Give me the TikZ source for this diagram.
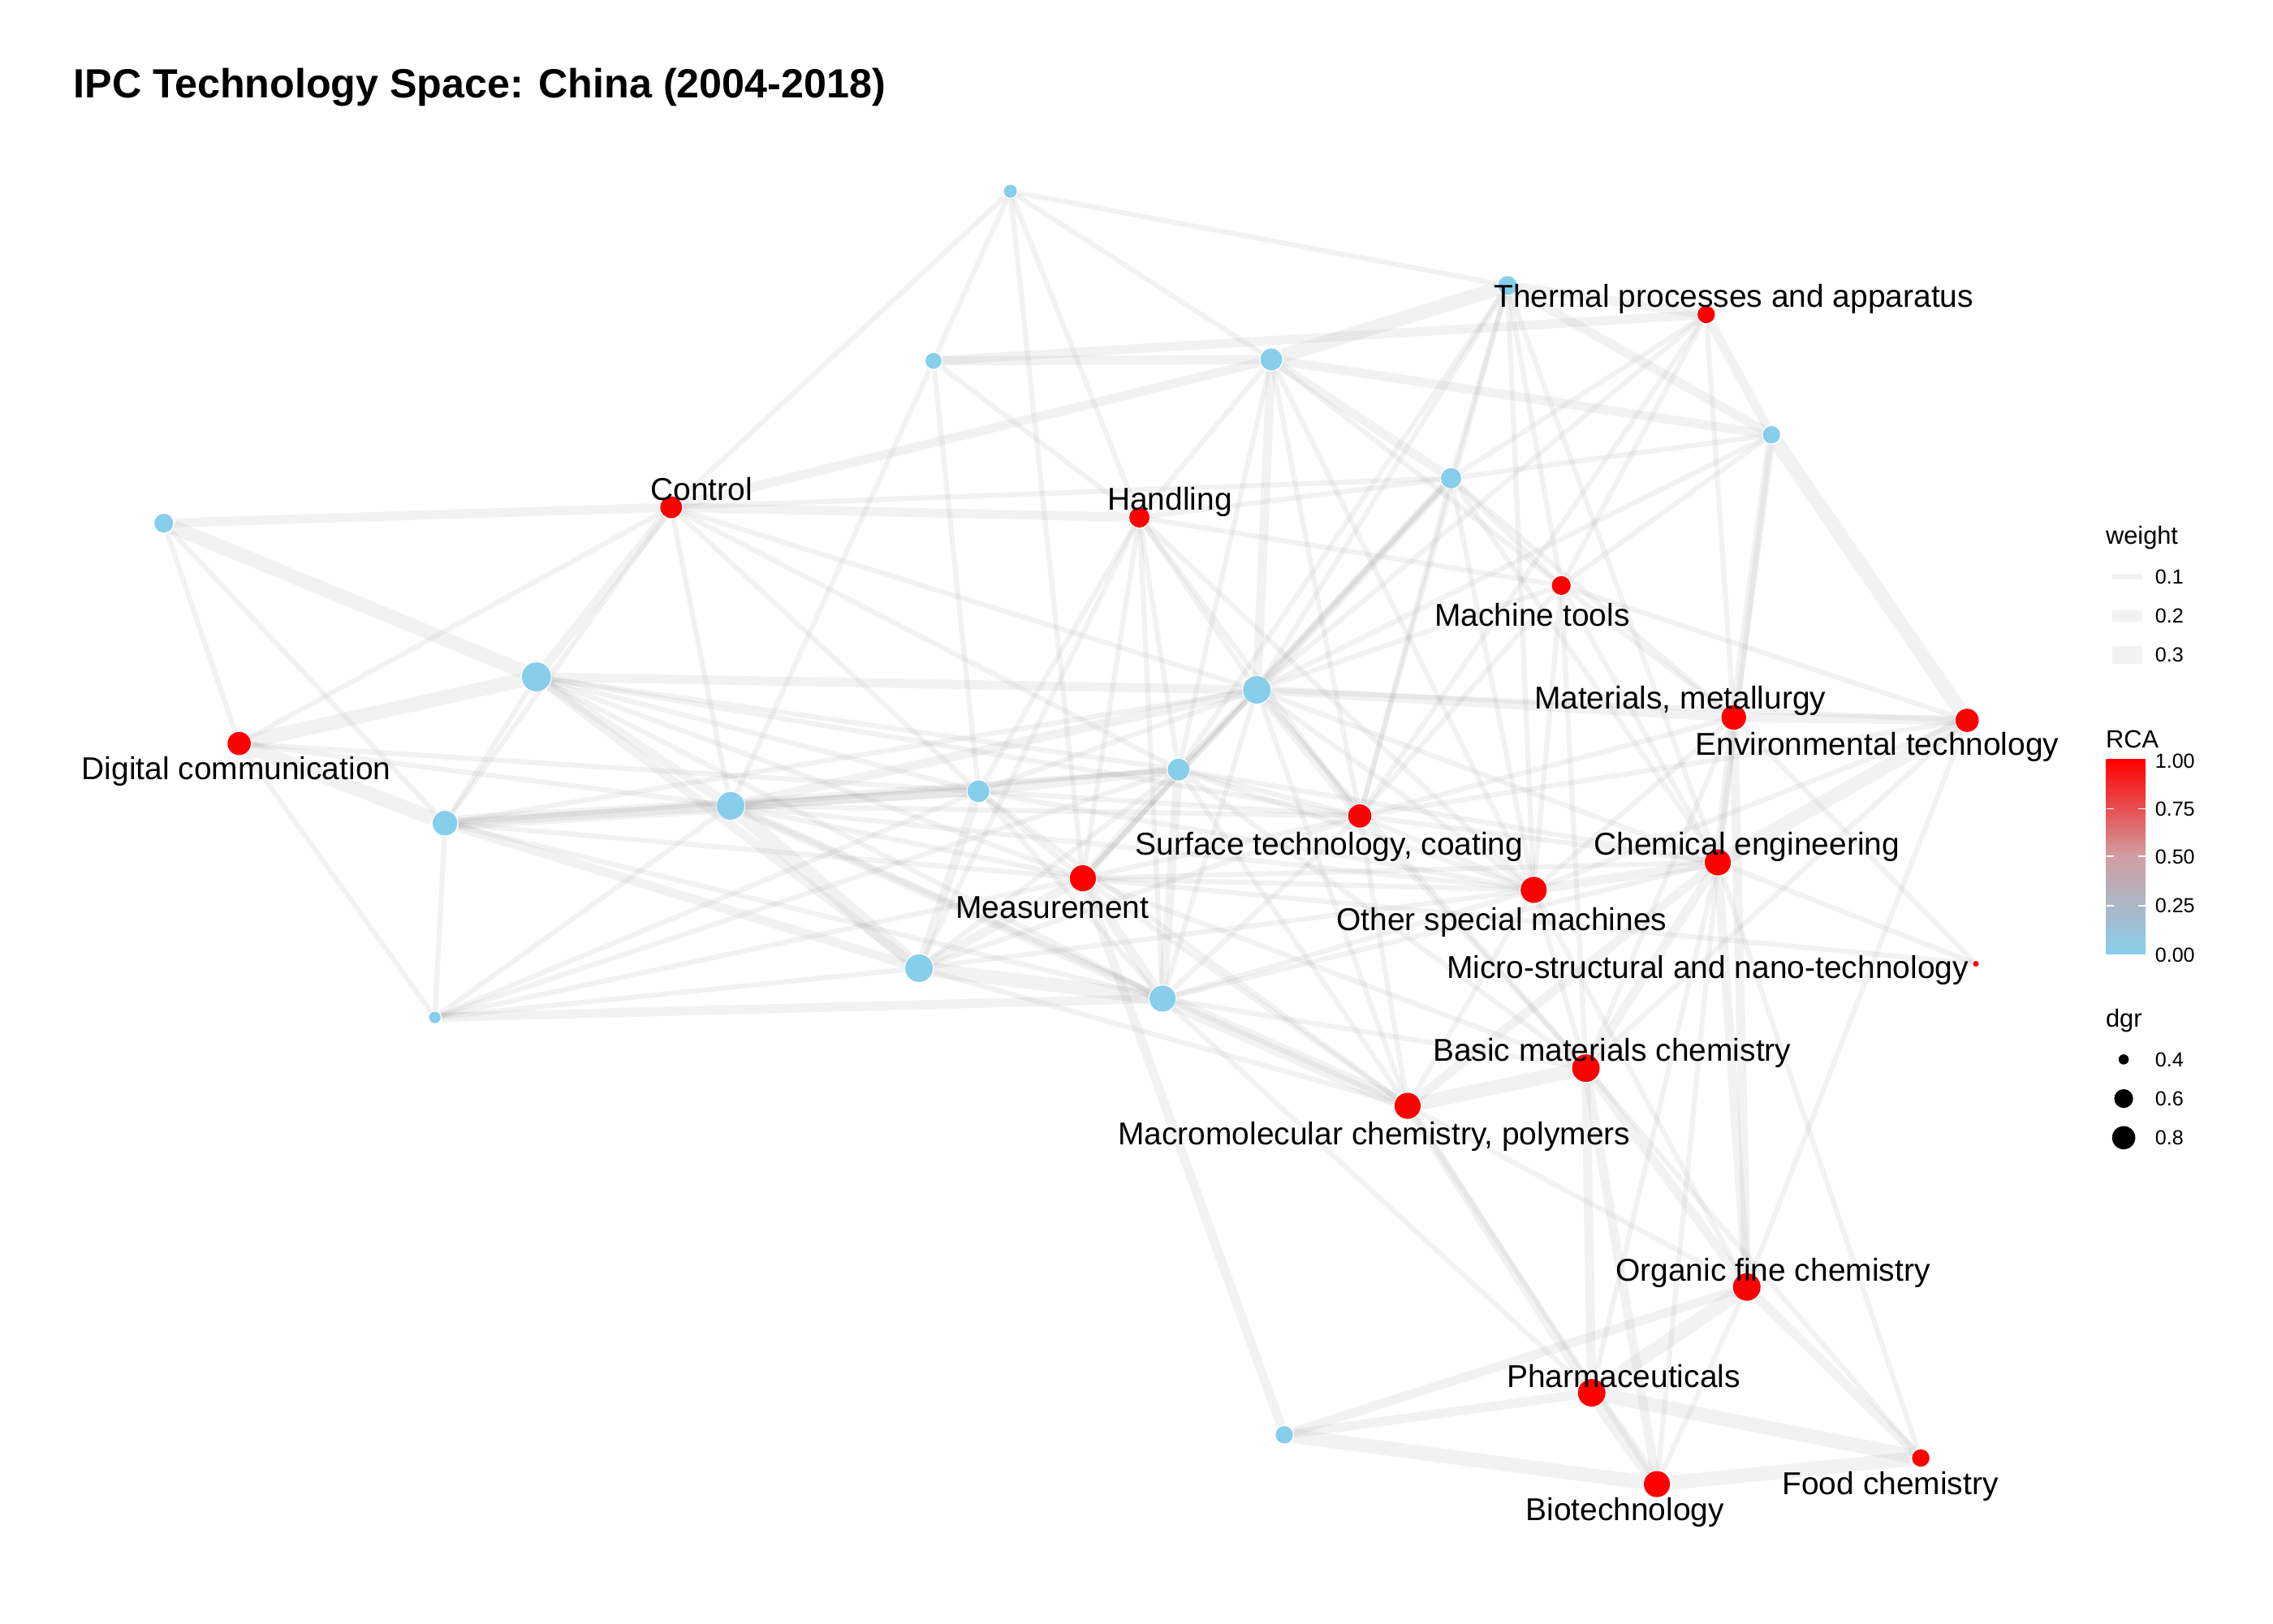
\documentclass[tikz,border=0pt]{standalone}
\usepackage{fontspec}
\setmainfont{Liberation Sans}
\pgfdeclarelayer{back}
\pgfsetlayers{back,main}
\definecolor{skyblue}{RGB}{135,206,235}
\definecolor{rcamid}{RGB}{208,158,162}
\tikzset{
  tie/.style={draw=black!50, draw opacity=0.10, line width=1pt},
  tieb/.style={tie, line width=1.8pt},
  tiec/.style={tie, line width=2.8pt},
  hot/.style={circle, fill=red, inner sep=0pt, minimum size=#1*0.02cm},
  cold/.style={circle, fill=skyblue, inner sep=0pt, minimum size=#1*0.02cm},
  lbl/.style={inner sep=0pt, yshift=-0.025cm, font=\fontsize{6.2}{7}\selectfont},
  keytxt/.style={inner sep=0pt, anchor=west, font=\fontsize{4}{5}\selectfont},
  keyhead/.style={inner sep=0pt, anchor=west, yshift=-0.02cm, font=\fontsize{4.9}{6}\selectfont}
}
\begin{document}
\begin{tikzpicture}[x=0.01cm, y=-0.01cm]
\useasboundingbox (0,0) rectangle (1568,1120);
\node[anchor=west, inner sep=0pt, font=\bfseries\fontsize{8}{9}\selectfont] (title) at (50,60) {IPC Technology Space: China (2004-2018)};
% technologies without advantage
\node[cold=4.5] (b1) at (697,132) {};
\node[cold=5.5] (b2) at (644,249) {};
\node[cold=7.5] (b3) at (877,248) {};
\node[cold=6.5] (b4) at (1040,197) {};
\node[cold=6] (b5) at (1222,300) {};
\node[cold=7] (b6) at (1001,330) {};
\node[cold=6.5] (b7) at (113,361) {};
\node[cold=10] (b8) at (370,467) {};
\node[cold=9.5] (b9) at (867,476) {};
\node[cold=8.5] (b10) at (307,568) {};
\node[cold=9.5] (b11) at (504,556) {};
\node[cold=7.5] (b12) at (675,546) {};
\node[cold=7.5] (b13) at (813,531) {};
\node[cold=9.5] (b14) at (634,668) {};
\node[cold=9] (b15) at (802,689) {};
\node[cold=4] (b16) at (300,702) {};
\node[cold=6] (b17) at (886,990) {};
% technologies with advantage
\node[hot=7.5] (ctrl) at (463,350) {};
\node[hot=7] (hand) at (786,357) {};
\node[hot=6] (therm) at (1177,217) {};
\node[hot=6.5] (mtool) at (1077,404) {};
\node[hot=8] (digi) at (165,513) {};
\node[hot=8.5] (matl) at (1196,495) {};
\node[hot=8] (env) at (1357,497) {};
\node[hot=8] (surf) at (938,563) {};
\node[hot=9] (meas) at (747,606) {};
\node[hot=9] (chem) at (1185,595) {};
\node[hot=9] (oth) at (1058,614) {};
\node[hot=2] (micro) at (1363,665) {};
\node[hot=9.5] (basic) at (1094,737) {};
\node[hot=9] (macro) at (971,763) {};
\node[hot=9.5] (org) at (1205,888) {};
\node[hot=9.5] (pharm) at (1098,961) {};
\node[hot=9] (biot) at (1143,1024) {};
\node[hot=6] (food) at (1325,1006) {};
% labels
\node[lbl] (therm-l) at (1196,204) {Thermal processes and apparatus};
\node[lbl] (ctrl-l) at (484,335) {Control};
\node[lbl] (hand-l) at (807,344) {Handling};
\node[lbl] (mtool-l) at (1057,422) {Machine tools};
\node[lbl] (matl-l) at (1159,481) {Materials, metallurgy};
\node[lbl] (env-l) at (1295,513) {Environmental technology};
\node[lbl] (digi-l) at (163,530) {Digital communication};
\node[lbl] (surf-l) at (917,582) {Surface technology, coating};
\node[lbl] (chem-l) at (1205,582) {Chemical engineering};
\node[lbl] (meas-l) at (726,624) {Measurement};
\node[lbl] (oth-l) at (1036,634) {Other special machines};
\node[lbl] (micro-l) at (1178,667) {Micro-structural and nano-technology};
\node[lbl] (basic-l) at (1112,724) {Basic materials chemistry};
\node[lbl] (macro-l) at (948,782) {Macromolecular chemistry, polymers};
\node[lbl] (org-l) at (1223,876) {Organic fine chemistry};
\node[lbl] (pharm-l) at (1120,947) {Pharmaceuticals};
\node[lbl] (biot-l) at (1121,1041) {Biotechnology};
\node[lbl] (food-l) at (1304,1023) {Food chemistry};
% edges
\begin{pgfonlayer}{back}
\foreach \a/\b in {b7/b8, digi/b8, digi/b10, b10/b11, b11/b14, b14/b15, b15/macro, macro/basic, org/pharm, pharm/biot, biot/b17, biot/food, pharm/food, env/chem, b5/env, b3/b4}
  \draw[tiec] (\a) -- (\b);
\foreach \a/\b in {b7/ctrl, ctrl/b8, ctrl/b3, b8/b11, b8/b14, b8/b9, b11/b12, b11/b9, b12/b13, b9/matl, b4/therm, b4/b5, therm/b5, b3/b5, b3/b6, b9/b3, b17/pharm, b17/org, basic/org, basic/pharm, chem/org, matl/org, matl/env, matl/chem, chem/oth, chem/basic, meas/b15, b14/meas, b12/b14, b11/b15, b10/b14, b16/b15, b10/b12, macro/pharm, org/food, basic/biot, ctrl/hand, b2/b3, b2/therm, b9/surf, b13/b15, b13/meas, b9/b6, chem/macro, b5/matl, b17/meas}
  \draw[tieb] (\a) -- (\b);
\foreach \a/\b in {b1/b4, b1/b2, b1/ctrl, b1/b3, b1/hand, b1/meas, b2/b11, b2/hand, b2/b12, b7/digi, b7/b10, ctrl/digi, ctrl/b11, ctrl/b12, ctrl/b13, ctrl/b9, ctrl/b6, ctrl/b10, hand/b6, hand/mtool, hand/b12, hand/b14, hand/meas, hand/b15, hand/surf, hand/oth, hand/b9, hand/b13, b3/b13, b3/surf, b3/hand, b3/mtool, b3/oth, b6/mtool, b6/b4, b6/therm, b6/b5, b6/surf, b6/oth, b6/b13, b6/meas, b6/chem, b6/matl, b4/b9, b4/mtool, b4/oth, b4/surf, b4/b13, b4/chem, therm/b9, therm/mtool, therm/matl, therm/surf, b5/mtool, b5/b9, b5/chem, mtool/surf, mtool/oth, mtool/matl, mtool/env, mtool/b9, mtool/chem, mtool/basic, b8/b10, b8/b12, b8/b13, b8/b15, b8/meas, b8/surf, digi/b11, digi/b16, digi/b12, b10/b16, b10/b13, b10/meas, b10/b15, b10/b9, b16/b11, b16/b12, b16/b14, b16/meas, b16/b13, b11/b13, b11/meas, b11/surf, b11/oth, b11/macro, b12/b9, b12/meas, b12/b15, b12/surf, b12/oth, b12/macro, b13/b9, b13/b14, b13/surf, b13/oth, b13/chem, b13/macro, b13/basic, b9/oth, b9/chem, b9/env, b9/meas, b9/b15, b9/macro, b9/basic, b14/macro, b14/surf, b14/oth, b15/surf, b15/oth, b15/basic, b15/chem, b15/pharm, meas/surf, meas/oth, meas/chem, meas/macro, meas/micro, meas/basic, surf/oth, surf/chem, surf/matl, surf/macro, surf/basic, surf/env, oth/matl, oth/basic, oth/macro, oth/env, oth/org, chem/micro, chem/pharm, chem/food, chem/biot, matl/micro, matl/basic, env/org, env/basic, macro/org, macro/biot, basic/food, org/biot}
  \draw[tie] (\a) -- (\b);
\end{pgfonlayer}
% legend: weight
\node[keyhead] (wt-h) at (1452,369) {weight};
\coordinate (wk1a) at (1457,398); \coordinate (wk1b) at (1478,398);
\coordinate (wk2a) at (1457,425); \coordinate (wk2b) at (1478,425);
\coordinate (wk3a) at (1457,452); \coordinate (wk3b) at (1478,452);
\draw[tie, line width=1.1pt] (wk1a) -- (wk1b);
\draw[tie, line width=2.3pt] (wk2a) -- (wk2b);
\draw[tie, line width=3.4pt] (wk3a) -- (wk3b);
\node[keytxt] (wk1) at (1486,398) {0.1};
\node[keytxt] (wk2) at (1486,425) {0.2};
\node[keytxt] (wk3) at (1486,452) {0.3};
% legend: RCA
\node[keyhead] (rca-h) at (1452,508) {RCA};
\shade[top color=red, bottom color=skyblue, middle color=rcamid] (1453,524) rectangle (1480,658);
\foreach \y in {558,591,625}
  \draw[white, line width=0.3pt] (1453,\y) -- ++(5,0) (1480,\y) -- ++(-5,0);
\node[keytxt] (r100) at (1486,525) {1.00};
\node[keytxt] (r075) at (1486,558) {0.75};
\node[keytxt] (r050) at (1486,591) {0.50};
\node[keytxt] (r025) at (1486,625) {0.25};
\node[keytxt] (r000) at (1486,659) {0.00};
% legend: dgr
\node[keyhead] (dgr-h) at (1452,702) {dgr};
\fill (1465,731) circle (3.5);
\fill (1465,758) circle (6.5);
\fill (1465,785) circle (8);
\node[keytxt] (d4) at (1486,731) {0.4};
\node[keytxt] (d6) at (1486,758) {0.6};
\node[keytxt] (d8) at (1486,785) {0.8};
\end{tikzpicture}
\end{document}
